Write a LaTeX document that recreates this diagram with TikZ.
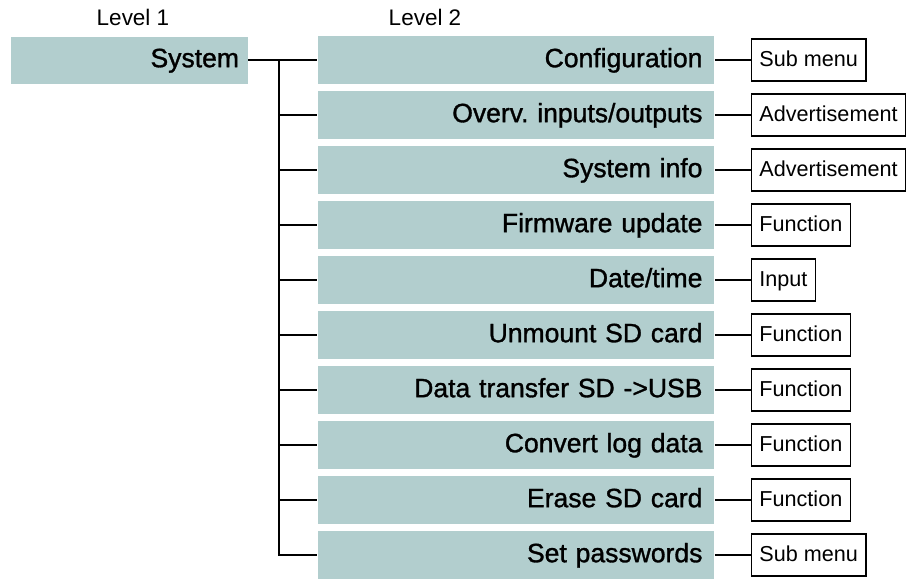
\documentclass[tikz,border=0pt]{standalone}
\usepackage{fontspec}
\setmainfont{Liberation Sans}
\newfontfamily\boxfont{Liberation Sans}[FakeBold=1.2]
\usepackage{tikz}
\usetikzlibrary{
  positioning,
}
\definecolor{menufill}{HTML}{B2CECE}
\tikzset{
  lvlhead/.style={
    font=\fontsize{12.8}{14}\selectfont, inner sep=0pt,
  },
  lvlone/.style={
    rectangle, fill=menufill, draw=none, inner xsep=0.18cm, inner ysep=0pt,
    text width=4.38cm, align=right, minimum height=0.94cm,
    text height=0.82em, text depth=0pt,
    font=\boxfont\fontsize{15.1}{16}\selectfont,
  },
  lvltwo/.style={
    rectangle, fill=menufill, draw=none, inner xsep=0.24cm, inner ysep=0pt,
    text width=7.46cm, align=right, minimum height=0.96cm,
    text height=0.82em, text depth=0pt,
    font=\boxfont\fontsize{15.1}{16}\selectfont,
  },
  leaf/.style={
    rectangle, draw=black, line width=0.7pt, fill=white,
    inner xsep=0.16cm, inner ysep=0pt, minimum height=0.84cm,
    text height=0.72em, text depth=0pt,
    font=\fontsize{12.3}{14}\selectfont,
  },
  link/.style={
    draw=black, line width=1.1pt,
  },
}

\begin{document}
\frenchspacing
\begin{tikzpicture}[x=0.02cm, y=-0.02cm]
\useasboundingbox (0,0) rectangle (911,579);

% column heads
\node[lvlhead] (hd1) at (133,17) {Level 1};
\node[lvlhead] (hd2) at (425,17) {Level 2};

% level 1
\node[lvlone] (sys) at (129.5,60) {System};

% level 2 and the boxes behind it
\foreach \i/\lbl/\kind in {
  1/Configuration/Sub menu,
  2/{Overv. inputs/outputs}/Advertisement,
  3/System info/Advertisement,
  4/Firmware update/Function,
  5/{Date/time}/Input,
  6/Unmount SD card/Function,
  7/Data transfer SD ->USB/Function,
  8/Convert log data/Function,
  9/Erase SD card/Function,
  10/Set passwords/Sub menu}
{
  \node[lvltwo] (l2-\i) at (516, 5+55*\i) {\lbl};
  \node[leaf, right=0.72cm of l2-\i] (leaf-\i) {\kind};
  \draw[link] (l2-\i.east) -- (leaf-\i.west);
}

% tree lines
\coordinate (split) at (279,60);
\draw[link] (sys.east) -- (l2-1.west);
\foreach \i in {2,...,10}
  \draw[link] (split) |- (l2-\i.west);

\end{tikzpicture}
\end{document}
